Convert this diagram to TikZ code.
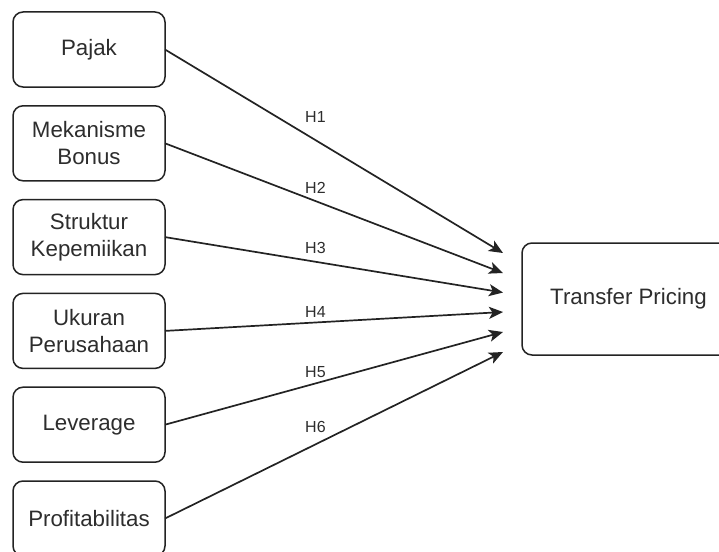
\documentclass[tikz,border=0pt]{standalone}
\usepackage{fontspec}
\setmainfont{Liberation Sans}
\usetikzlibrary{arrows.meta, positioning}
\definecolor{linegray}{RGB}{35, 35, 35}
\definecolor{textgray}{RGB}{45, 45, 45}

\begin{document}
\begin{tikzpicture}[
  x=1pt, y=-1pt,
  node distance=18.8pt,
  var/.style={draw=linegray, line width=1.5pt, rounded corners=10pt, fill=white,
              minimum width=152pt, minimum height=75pt, inner sep=2pt, outer sep=0pt,
              font=\fontsize{22.3}{27}\selectfont, text=textgray, align=center},
  arr/.style={-{Stealth[length=14pt, width=12pt, inset=3.5pt]}, linegray, line width=1.7pt},
  lbl/.style={font=\fontsize{16}{19}\selectfont, text=textgray, anchor=west, inner sep=0pt}]
  \useasboundingbox (0,0) rectangle (719,551);
  \node[var] at (89,49.5) (pajak) {Pajak};
  \node[var, below=of pajak]  (bonus)  {Mekanisme\\Bonus};
  \node[var, below=of bonus]  (strukt) {Struktur\\Kepemiikan};
  \node[var, below=of strukt] (ukuran) {Ukuran\\Perusahaan};
  \node[var, below=of ukuran] (lev)    {Leverage};
  \node[var, below=of lev]    (profit) {Profitabilitas};
  \node[var, minimum width=213pt, minimum height=112pt] at (628.5,299) (tp) {Transfer Pricing};
  % arrow tips just left of the dependent variable
  \coordinate (t1) at (503,253);
  \coordinate (t2) at (503,273);
  \coordinate (t3) at (503,292.5);
  \coordinate (t4) at (503,312);
  \coordinate (t5) at (503,332);
  \coordinate (t6) at (503,352);
  \draw[arr] (pajak.east)  -- (t1);
  \draw[arr] (bonus.east)  -- (t2);
  \draw[arr] (strukt.east) -- (t3);
  \draw[arr] (ukuran.east) -- (t4);
  \draw[arr] (lev.east)    -- (t5);
  \draw[arr] (profit.east) -- (t6);
  \node[lbl] (h1) at (305,117) {H1};
  \node[lbl] (h2) at (305,188) {H2};
  \node[lbl] (h3) at (305,248) {H3};
  \node[lbl] (h4) at (305,312) {H4};
  \node[lbl] (h5) at (305,372) {H5};
  \node[lbl] (h6) at (305,427) {H6};
\end{tikzpicture}
\end{document}
